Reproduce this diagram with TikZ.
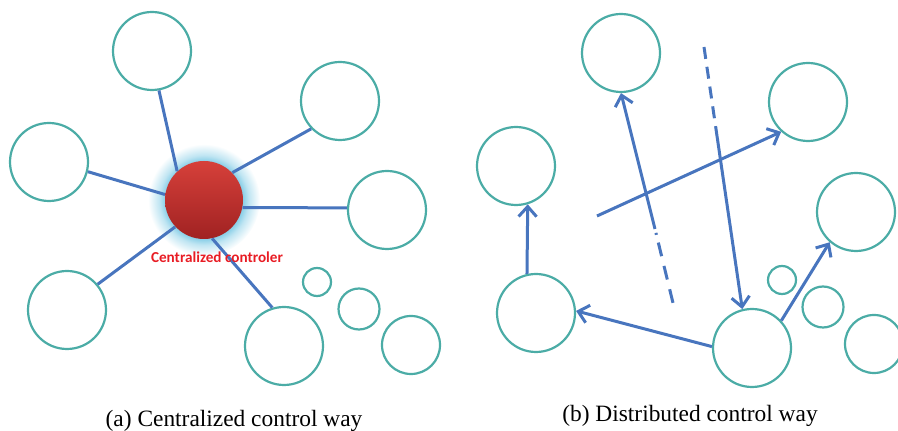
\documentclass[tikz,border=0pt]{standalone}
\usepackage{fontspec}
\setmainfont{Liberation Serif}
\newfontfamily\labelfont{Carlito}
\usepackage{tikz}
\usetikzlibrary{arrows.meta}

\definecolor{ringteal}{RGB}{75,172,166}
\definecolor{linkblue}{RGB}{72,117,190}
\definecolor{glowc}{RGB}{140,208,232}
\definecolor{redtop}{RGB}{214,64,58}
\definecolor{redbot}{RGB}{160,34,34}
\definecolor{labelred}{RGB}{232,28,36}
\pgfdeclareradialshading{glow}{\pgfpoint{0bp}{0bp}}{color(0bp)=(glowc); color(17.5bp)=(glowc); color(20bp)=(glowc!55); color(25bp)=(white); color(50bp)=(white)}

\begin{document}
\begin{tikzpicture}[x=0.5pt,y=-0.5pt,
  peer/.style={shape=circle,draw=ringteal,line width=1.1pt,fill=white,inner sep=0pt,minimum size=39pt},
  spot/.style={shape=circle,draw=ringteal,line width=1.1pt,fill=white,inner sep=0pt},
  link/.style={draw=linkblue,line width=1.5pt},
  arr/.style={link,-{Straight Barb[length=5pt,width=9pt]}},
  caption/.style={anchor=base,font=\fontsize{11.7}{14}\selectfont}]
\useasboundingbox (0,0) rectangle (898,431);

% (a) centralized
\path (204,200) node (halo) [shape=circle,shade,shading=glow,minimum size=56pt] {};
\path (204,200) node (ctrl) [shape=circle,minimum size=39pt,top color=redtop,bottom color=redbot] {};
\path (152,51) node (atop) [peer] {};
\path (49,162) node (aleft) [peer] {};
\path (340,101) node (aupper) [peer] {};
\path (387,210) node (aright) [peer] {};
\path (67,310) node (alow) [peer] {};
\path (284,346) node (abottom) [peer] {};
\path (317,282) node (as1) [spot,minimum size=14pt] {};
\path (359,309) node (as2) [spot,minimum size=20.5pt] {};
\path (411,345) node (as3) [spot,minimum size=29pt] {};

\draw [link] (ctrl.133) -- (atop.-80);
\draw [link] (ctrl.172) -- (aleft.-14);
\draw [link] (ctrl.44) -- (aupper.224);
\draw [link] (ctrl.-11) -- (aright.177);
\draw [link] (ctrl.223) -- (alow.40);
\draw [link] (ctrl.-78) -- (abottom.107);

\path (217,263) node (ctrllabel) [anchor=base,text=labelred,font=\labelfont\bfseries\fontsize{7.6}{9}\selectfont] {Centralized controler};

% (b) distributed
\path (621,53) node (btop) [peer] {};
\path (516,166) node (bleft) [peer] {};
\path (808,102) node (bupper) [peer] {};
\path (856,212) node (bright) [peer] {};
\path (536,313) node (blow) [peer] {};
\path (752,348) node (bbottom) [peer] {};
\path (782,280) node (bs1) [spot,minimum size=14pt] {};
\path (823,307) node (bs2) [spot,minimum size=20.5pt] {};
\path (874,344) node (bs3) [spot,minimum size=29pt] {};

\draw [arr] (blow.103) -- (bleft.-73);
\draw [arr] (bbottom.178) -- (blow.3);
\draw [arr] (bbottom.43) -- (bright.229);

\coordinate (cross) at (597,216);
\draw [arr] (cross) -- (bupper.228);

\coordinate (dashtop) at (704,47);
\coordinate (dashend) at (717,136);
\draw [link,dash pattern=on 6pt off 4pt] (dashtop) -- (dashend);
\draw [arr] (dashend) -- (bbottom.104);

\coordinate (split) at (655,229);
\coordinate (dashlow) at (673,303);
\draw [arr] (split) -- (btop.-90);
\draw [link,dash pattern=on 0pt off 2pt on 1pt off 4pt on 7pt off 5pt on 7pt off 5pt on 7pt off 5pt] (split) -- (dashlow);

\path (234,427) node (capa) [caption] {(a) Centralized control way};
\path (690,422) node (capb) [caption] {(b) Distributed control way};
\end{tikzpicture}
\end{document}
